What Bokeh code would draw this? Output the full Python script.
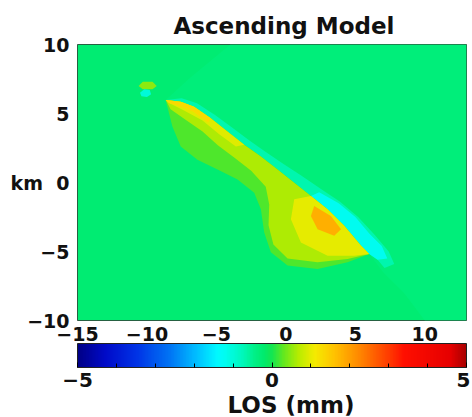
import numpy as np
from bokeh.plotting import figure
from bokeh.models import (ColumnDataSource, LinearColorMapper, ColorBar, FixedTicker,
                          Title, Range1d)
from bokeh.embed import file_html
from bokeh.resources import INLINE

# ---------------- axes / ticks ----------------
x_ticks = [-15, -10, -5, 0, 5, 10]
y_ticks = [-10, -5, 0, 5, 10]
y_tick_labels = {0: "km\u00a0\u00a00"}
cbar_ticks = [-5, 0, 5]
cbar_minor_ticks = [-4, -3, -2, -1, 1, 2, 3, 4]
los_low, los_high = -5, 5

# ---------------- colour scale anchors (LOS mm -> rgb) ----------------
cmap_los = [-5, -4.3, -3.5, -2.6, -2.0, -1.4, -1.2, -0.75, -0.45, -0.2, 0.0, 0.3,
            0.7, 1.1, 1.6, 2.2, 3.0, 3.4, 4.6, 5.0]
cmap_rgb = [(0, 0, 135), (0, 10, 200), (0, 50, 230), (0, 120, 245), (0, 185, 255),
            (0, 250, 255), (0, 252, 240), (0, 247, 185), (0, 240, 135), (0, 235, 108),
            (20, 230, 80), (100, 232, 30), (185, 236, 0), (245, 235, 0), (255, 195, 0),
            (255, 140, 0), (255, 60, 0), (255, 15, 0), (230, 0, 0), (170, 0, 0)]

# ---------------- LOS field (km, mm) ----------------
# fault trace (upper edge of the uplift wedge), NW tip -> SE tip
fault_x = [-8.65, -7.57, -6.61, -5.41, -4.21, -3.0, -1.8, -0.6, 0.6, 1.8, 3.0, 4.2, 5.41, 6.0]
fault_y = [5.97, 5.85, 5.49, 4.65, 3.69, 2.73, 1.89, 0.94, -0.02, -0.98, -1.94, -3.14, -4.58, -5.18]

background_x = [-15, 13, 13, -15]
background_y = [-10, -10, 10, 10]
background_los = -0.25

east_x = [7.0, 8.5, 10.0, 13.0, 13.0, -4.0, -7.0]
east_y = [-6.5, -8.0, -10.0, -10.0, 10.0, 10.0, 7.5]
east_los = -0.34

strip_x = [6.6, 7.1, 7.8, 7.4, 6.4, 5.2, 3.9, 2.5, 1.1, -0.2, -1.5, -2.7, -3.9, -5.1, -6.4, -7.5]
strip_y = [-5.6, -6.2, -5.9, -5.0, -3.8, -2.5, -1.4, -0.45, 0.5, 1.35, 2.25, 3.1, 4.0, 4.9, 5.75, 6.1]
strip_los = -0.7

core_x = [6.6, 7.3, 6.9, 6.0, 5.0, 3.8, 2.4]
core_y = [-5.6, -5.5, -4.6, -3.7, -2.5, -1.5, -0.7]
core_los = -1.2

wedge_x = [4.44, 2.28, 0.12, -1.08, -1.56, -1.8, -2.28, -3.48, -4.92, -6.37, -7.57, -8.17, -8.53]
wedge_y = [-5.78, -6.26, -6.02, -5.06, -3.62, -1.94, -0.74, 0.22, 0.94, 1.65, 2.61, 4.05, 5.49]
wedge_los = 0.2

mid_x = [4.44, 2.28, 0.12, -0.9, -1.25, -1.2, -1.45, -2.5, -3.7, -4.9, -6.0, -7.3, -8.3]
mid_y = [-5.54, -5.78, -5.5, -4.5, -3.1, -1.6, -0.3, 0.85, 1.8, 2.7, 3.7, 4.6, 5.3]
mid_los = 0.65

lobe_x = [4.92, 3.0, 1.08, 0.36, 0.6]
lobe_y = [-5.3, -5.3, -4.34, -2.66, -1.22]
lobe_los = 1.0

band_x = [-3.6, -4.8, -6.0, -7.3, -8.3]
band_y = [2.6, 3.5, 4.5, 5.2, 5.7]
band_los = 0.95

edge_x = [-5.6, -6.7, -7.6, -8.4]
edge_y = [4.35, 5.15, 5.5, 5.75]
edge_los = 1.3

orange_x = [2.04, 3.24, 3.97, 3.48, 2.28, 1.8]
orange_y = [-1.7, -2.42, -3.38, -3.86, -3.38, -2.42]
orange_los = 1.8

blob_x = [-10.6, -10.3, -9.6, -9.3, -9.6, -10.3]
blob_y = [7.0, 7.3, 7.3, 7.0, 6.75, 6.75]
blob_los = 0.5

dot_x = [-10.5, -10.2, -9.8, -9.7, -10.0, -10.4]
dot_y = [6.5, 6.75, 6.7, 6.4, 6.2, 6.25]
dot_los = -1.0

# ---------------- build polygons ----------------
fx, fy = list(fault_x), list(fault_y)
polys = [
    (background_x, background_y, background_los),
    (fx + east_x, fy + east_y, east_los),
    (fx + strip_x, fy + strip_y, strip_los),
    (fx[9:] + core_x, fy[9:] + core_y, core_los),
    (fx + wedge_x, fy + wedge_y, wedge_los),
    (fx + mid_x, fy + mid_y, mid_los),
    (fx[9:] + lobe_x, fy[9:] + lobe_y, lobe_los),
    (fx[:6] + band_x, fy[:6] + band_y, band_los),
    (fx[:4] + edge_x, fy[:4] + edge_y, edge_los),
    (orange_x, orange_y, orange_los),
    (blob_x, blob_y, blob_los),
    (dot_x, dot_y, dot_los),
]
src = ColumnDataSource(dict(xs=[p[0] for p in polys], ys=[p[1] for p in polys],
                            los=[p[2] for p in polys]))

grid = np.linspace(los_low, los_high, 256)
rgb = np.array(cmap_rgb, dtype=float)
palette = []
for g in grid:
    r = np.interp(g, cmap_los, rgb[:, 0])
    gg = np.interp(g, cmap_los, rgb[:, 1])
    b = np.interp(g, cmap_los, rgb[:, 2])
    palette.append("#%02x%02x%02x" % (int(round(r)), int(round(gg)), int(round(b))))
mapper = LinearColorMapper(palette=palette, low=los_low, high=los_high)

FONT = "DejaVu Sans"
INK = "#111111"

p = figure(width=470, height=417, x_range=Range1d(-15, 13), y_range=Range1d(-10, 10),
           output_backend="svg", toolbar_location=None,
           min_border_left=77, min_border_right=4, min_border_top=44, min_border_bottom=0)
p.patches("xs", "ys", source=src, fill_color={"field": "los", "transform": mapper},
          line_color=None)

p.title.text = "Ascending Model"
p.title.text_font = FONT
p.title.text_font_size = "23px"
p.title.text_font_style = "bold"
p.title.text_color = INK
p.title.align = "left"
p.title.offset = 96
p.title.standoff = 11

p.xaxis.ticker = FixedTicker(ticks=x_ticks)
p.yaxis.ticker = FixedTicker(ticks=y_ticks)
p.yaxis.major_label_overrides = y_tick_labels
p.grid.visible = False
p.axis.axis_line_color = None
p.axis.major_tick_line_color = None
p.axis.minor_tick_line_color = None
p.axis.major_label_text_font = FONT
p.axis.major_label_text_font_size = "19px"
p.axis.major_label_text_font_style = "bold"
p.axis.major_label_text_color = INK
p.yaxis.major_label_standoff = 2
p.xaxis.major_label_standoff = 0
p.outline_line_color = "#333333"

cb = ColorBar(color_mapper=mapper, orientation="horizontal", height=24,
              ticker=FixedTicker(ticks=cbar_ticks, minor_ticks=cbar_minor_ticks),
              major_label_text_font=FONT, major_label_text_font_size="20px",
              major_label_text_font_style="bold", major_label_text_color=INK,
              bar_line_color="#222222", major_tick_in=5, major_tick_out=0,
              minor_tick_in=4, minor_tick_out=0, major_tick_line_color="black",
              minor_tick_line_color="black", padding=0, margin=0, label_standoff=5)
p.add_layout(cb, "below")
p.add_layout(Title(text="LOS (mm)", align="left", offset=150, text_font=FONT,
                   text_font_size="23px", text_font_style="bold", text_color=INK,
                   standoff=0), "below")

open("out.html", "w").write(file_html(p, INLINE))
